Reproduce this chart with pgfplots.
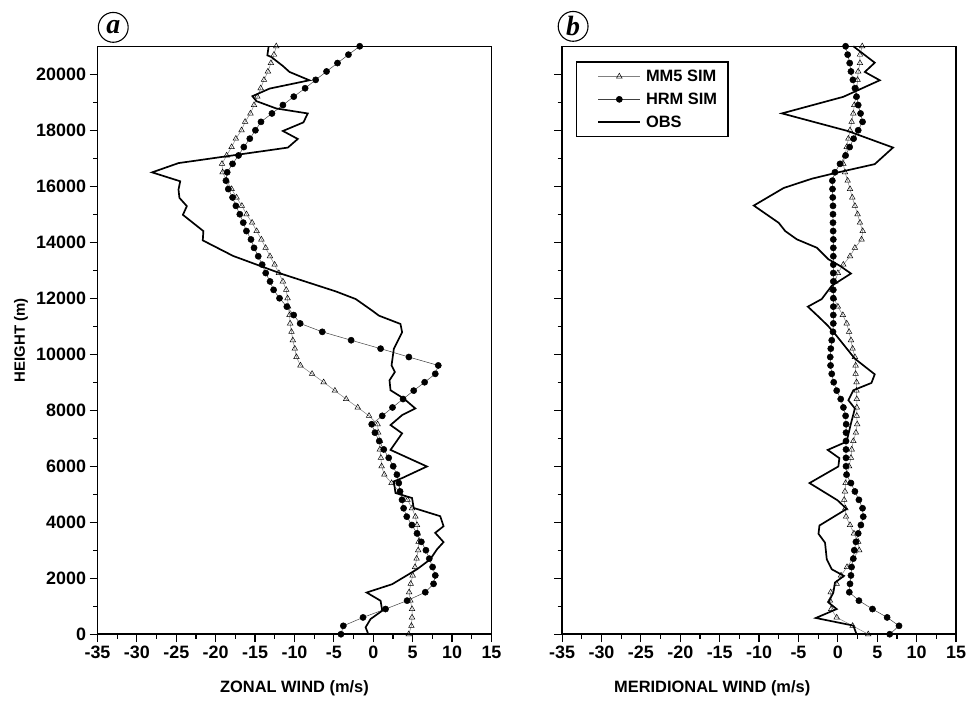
\documentclass[border=0pt]{standalone}
\usepackage{fontspec}
\setmainfont{Liberation Sans}
\newfontfamily\serifbi{Liberation Serif}
\usepackage{pgfplots}
\usepackage{pgfplotstable}
\pgfplotsset{compat=1.18}

\pgfplotstableread{
h mm hrm
0 4.5 -4.1
300 4.84 -3.8
600 4.92 -1.3
900 4.92 1.56
1200 4.71 4.29
1500 4.55 6.6
1800 4.75 7.65
2100 5.0 7.87
2400 5.3 7.53
2700 5.5 7.11
3000 5.7 6.68
3300 5.75 6.1
3600 5.65 5.55
3900 5.55 4.9
4200 5.35 4.25
4500 4.92 3.85
4800 4.35 3.65
5100 3.3 3.4
5400 2.32 3.24
5700 1.4 3.0
6000 1.06 2.53
6300 0.97 1.96
6600 0.84 1.33
6900 0.84 0.76
7200 0.63 0.21
7500 0.55 -0.2
7800 -0.54 1.14
8100 -1.97 2.44
8400 -3.44 3.78
8700 -4.87 5.13
9000 -6.3 6.52
9300 -7.77 7.87
9600 -9.24 8.25
9900 -9.75 4.52
10200 -9.96 0.93
10500 -10.21 -2.81
10800 -10.38 -6.47
11100 -10.55 -9.28
11400 -10.63 -10.1
11700 -10.8 -10.97
12000 -10.88 -11.9
12300 -11.05 -12.65
12600 -11.47 -13.1
12900 -11.98 -13.65
13200 -12.52 -14.1
13500 -13.11 -14.6
13800 -13.66 -15.13
14100 -14.2 -15.52
14400 -14.8 -16.1
14700 -15.38 -16.5
15000 -16.09 -16.94
15300 -16.68 -17.44
15600 -17.35 -17.86
15900 -17.98 -18.4
16200 -18.6 -18.7
16500 -19.12 -18.54
16800 -19.2 -17.86
17100 -18.61 -17.1
17400 -17.98 -16.43
17700 -17.44 -15.67
18000 -16.72 -14.96
18300 -16.27 -14.25
18600 -15.59 -12.86
18900 -15.13 -11.47
19200 -14.71 -10.09
19500 -14.29 -8.65
19800 -13.87 -7.31
20100 -13.37 -5.93
20400 -12.99 -4.54
20700 -12.6 -3.15
21000 -12.31 -1.72
}\leftsim

\pgfplotstableread{
h u
0 -0.63
248 -0.97
544 -0.34
840 1.14
1195 0.93
1490 -0.84
1787 2.4
2320 5.55
2675 7.23
3030 8.08
3290 8.92
3621 7.86
3858 8.92
4215 8.5
4510 5.13
4865 4.92
5044 2.82
5458 2.61
5577 3.66
5991 6.81
6583 2.19
7175 3.66
7471 2.19
7826 3.66
8063 5.34
8418 3.87
8714 2.19
9069 2.06
9365 2.74
9602 2.32
10195 2.61
10786 3.66
11082 3.45
11378 0.72
11556 -0.13
11970 -2.22
12243 -4.74
12856 -11.47
13510 -17.78
14067 -21.64
14398 -21.56
14979 -24.16
15290 -23.66
15585 -24.6
15881 -24.72
16177 -24.5
16496 -28.07
16827 -24.72
17381 -10.84
17689 -9.58
17974 -11.47
18282 -8.86
18600 -8.32
18778 -12.31
19039 -14.83
19216 -15.34
19489 -13.15
19785 -8.1
20082 -10.63
20295 -11.47
20616 -12.94
20675 -13.44
21000 -13.28
}\leftobs

\pgfplotstableread{
h mm hrm
0 3.85 6.58
300 1.87 7.76
600 -0.15 6.25
900 -0.85 4.39
1200 -1.0 2.67
1500 -0.91 1.45
1800 -0.15 1.54
2100 0.4 1.66
2400 1.16 1.74
2700 1.9 1.96
3000 2.71 2.08
3300 2.58 2.29
3600 2.04 2.58
3900 1.54 2.92
4200 1.03 3.22
4500 0.95 3.13
4800 0.8 2.67
5100 0.9 2.16
5400 0.98 1.66
5700 1.1 1.1
6000 1.42 1.03
6300 1.66 1.03
6600 1.75 1.03
6900 1.96 1.03
7200 2.29 1.03
7500 2.45 1.05
7800 2.4 0.98
8100 2.4 0.7
8400 2.4 0.36
8700 2.37 -0.15
9000 2.37 -0.53
9300 2.25 -0.78
9600 2.25 -0.93
9900 2.16 -0.97
10200 1.87 -0.9
10500 1.66 -0.78
10800 1.42 -0.62
11100 1.12 -0.58
11400 0.63 -0.58
11700 0.0 -0.58
12000 -0.5 -0.58
12300 -0.7 -0.58
12600 -0.35 -0.58
12900 0.0 -0.58
13200 0.69 -0.58
13500 1.54 -0.58
13800 2.16 -0.58
14100 3.0 -0.58
14400 3.15 -0.6
14700 2.8 -0.62
15000 2.5 -0.62
15300 2.16 -0.62
15600 1.83 -0.65
15900 1.54 -0.68
16200 1.24 -0.7
16500 0.9 -0.37
16800 0.69 0.27
17100 0.9 0.98
17400 1.12 1.5
17700 1.33 2.0
18000 1.54 2.58
18300 1.75 3.13
18600 1.96 2.88
18900 2.08 2.58
19200 2.3 2.37
19500 2.4 2.16
19800 2.5 1.91
20100 2.58 1.66
20400 2.8 1.5
20700 2.8 1.24
21000 3.09 0.98
}\rightsim

\pgfplotstableread{
h v
0 2.37
308 1.96
580 -2.8
899 -0.15
1136 -1.2
1491 -0.57
1846 -0.37
2083 0.77
2320 -0.78
2676 -1.41
3268 -1.63
3587 -2.46
3883 -2.34
4475 1.11
4783 -0.04
5399 -3.6
5991 0.06
6287 0.19
6583 -1.29
6878 1.11
7530 1.66
8063 2.16
8359 1.33
8714 1.96
8975 4.26
9283 4.68
9840 2.16
10728 -0.37
11024 -1.29
11343 -2.46
11699 -3.81
11971 -2.05
12445 -0.78
12883 1.66
13155 0.27
13392 -1.2
13806 -2.68
14102 -5.2
14398 -6.68
14694 -7.51
15310 -10.67
15938 -6.88
16269 -3.31
16470 -0.37
16790 4.68
17382 7.0
17974 1.24
18602 -7.1
19194 0.69
19785 5.32
20082 3.42
20413 4.68
21000 1.96
}\rightobs

\pgfplotsset{
  panel/.style={
    scale only axis, width=396pt, height=591pt,
    xmin=-35, xmax=15, ymin=0, ymax=21000,
    xtick={-35,-30,...,15}, minor x tick num=1,
    ytick={0,2000,...,20000}, minor y tick num=1,
    tick pos=left, tick align=outside,
    major tick length=8pt, minor tick length=4.5pt,
    every tick/.style={black, line width=1.2pt},
    axis line style={line width=1.5pt},
    clip=false,
    xticklabel style={font=\bfseries\fontsize{18}{20}\selectfont},
    yticklabel style={font=\bfseries\fontsize{18}{20}\selectfont},
    /pgf/number format/assume math mode=true,
    /pgf/number format/1000 sep={},
    scaled ticks=false,
  },
  mmstyle/.style={gray, line width=0.5pt, mark=triangle, mark size=3.2pt,
    mark options={fill=white, draw=black, line width=0.5pt, solid}},
  hrmstyle/.style={black!75, line width=0.5pt, mark=*, mark size=3.1pt,
    mark options={fill=black, draw=black}},
  obsstyle/.style={black, line width=1.7pt, no marks},
}

\begin{document}
\begin{tikzpicture}
\begin{axis}[panel, at={(97pt,66pt)}, anchor=south west]
\addplot[mmstyle] table[x=mm, y=h] {\leftsim};
\addplot[hrmstyle] table[x=hrm, y=h] {\leftsim};
\addplot[obsstyle] table[x=u, y=h] {\leftobs};
\node[circle, draw, line width=1.1pt, minimum size=30pt, inner sep=0pt,
  font=\serifbi\bfseries\itshape\fontsize{28}{28}\selectfont, yshift=19pt]
  at (axis description cs:0.04,1) {a};
\node[font=\bfseries\fontsize{16.5}{18}\selectfont] at (axis description cs:0.5,-0.0914) {ZONAL WIND (m/s)};
\node[rotate=90, font=\bfseries\fontsize{15}{17}\selectfont] at (axis description cs:-0.194,0.5) {HEIGHT (m)};
\end{axis}
\begin{axis}[panel, at={(564pt,66pt)}, anchor=south west, yticklabels={},
  legend style={at={(axis description cs:0.035,0.9746)}, anchor=north west,
    draw=black, line width=1.6pt, inner xsep=9pt, inner ysep=6pt,
    font=\bfseries\fontsize{16.5}{19}\selectfont, row sep=6pt, column sep=3pt,
    nodes={inner sep=2pt}, cells={anchor=west}},
  legend image code/.code={\path (0pt,0pt); \draw[mark repeat=2,mark phase=2,#1] plot coordinates {(12pt,0pt) (33pt,0pt) (54pt,0pt)};},
  ]
\addplot[mmstyle] table[x=mm, y=h] {\rightsim};
\addlegendentry{MM5 SIM}
\addplot[hrmstyle] table[x=hrm, y=h] {\rightsim};
\addlegendentry{HRM SIM}
\addplot[obsstyle] table[x=v, y=h] {\rightobs};
\addlegendentry{OBS}
\node[circle, draw, line width=1.1pt, minimum size=30pt, inner sep=0pt,
  font=\serifbi\bfseries\itshape\fontsize{28}{28}\selectfont, yshift=20pt]
  at (axis description cs:0.028,1) {b};
\node[font=\bfseries\fontsize{16.5}{18}\selectfont] at (axis description cs:0.381,-0.0914) {MERIDIONAL WIND (m/s)};
\end{axis}
\pgfresetboundingbox
\path[use as bounding box] (-1pt,-1.5pt) rectangle (972pt,703.5pt);
\end{tikzpicture}
\end{document}
